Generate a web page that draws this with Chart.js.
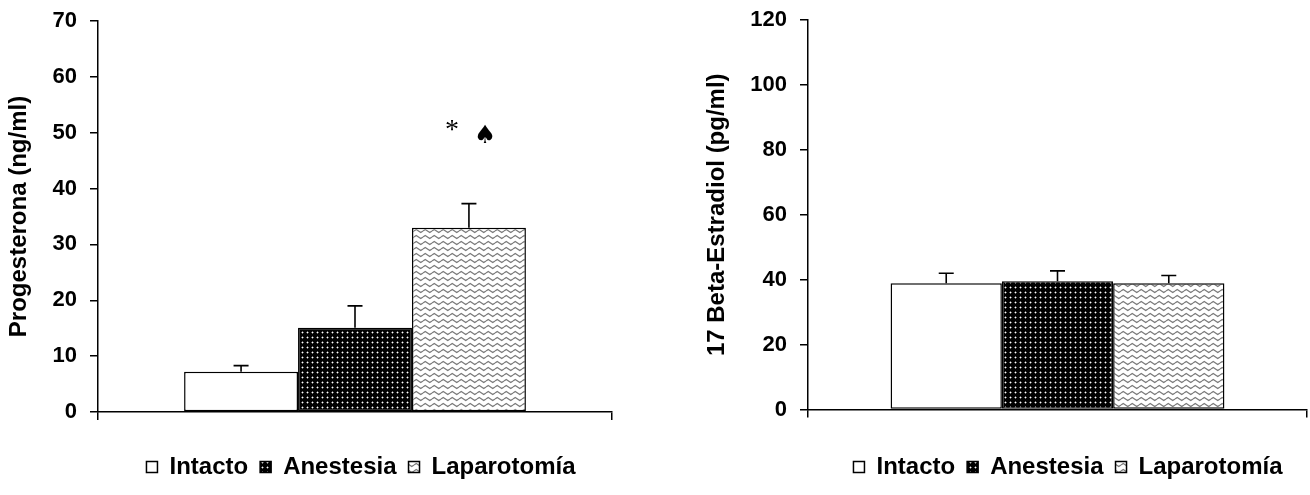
<!DOCTYPE html>
<html>
<head>
<meta charset="utf-8">
<script src="https://cdn.jsdelivr.net/npm/chart.js@4.4.1/dist/chart.umd.min.js"></script>
<style>
html,body{margin:0;padding:0;background:#fff;}
#wrap{position:relative;width:1310px;height:495px;overflow:hidden;background:#fff;}
.box{position:absolute;top:0;height:495px;}
canvas{display:block;}
</style>
</head>
<body>
<div id="wrap">
  <div class="box" style="left:0;width:698px"><canvas id="c1" width="698" height="495"></canvas></div>
  <div class="box" style="left:698px;width:612px"><canvas id="c2" width="612" height="495"></canvas></div>
</div>
<script>
// ---------- data ----------
const groups = ['Intacto', 'Anestesia', 'Laparotomía'];
const categories = [''];
const progMeans = [7.2, 15.1, 33.0];
const progSem = [1.1, 3.9, 4.3];
const progAxis = [0, 70, 10];          // min, max, step
const progTitle = 'Progesterona (ng/ml)';
const estMeans = [38.9, 39.5, 38.9];
const estSem = [3.1, 3.2, 2.4];
const estAxis = [0, 120, 20];
const estTitle = '17 Beta-Estradiol (pg/ml)';
const progMarks = ['*', '♠'];          // significance marks above Laparotomía
const progMarkValue = 50;
const progMarkGroup = 2;

// ---------- styles ----------
const FAMILY = "'Liberation Sans', Arial, Helvetica, sans-serif";
Chart.defaults.font.family = FAMILY;
Chart.defaults.color = '#000';

function dotPattern(ctx) {
  const t = document.createElement('canvas'); t.width = 5; t.height = 5;
  const g = t.getContext('2d');
  g.fillStyle = '#000'; g.fillRect(0, 0, 5, 5);
  g.fillStyle = '#666';
  g.fillRect(1, 2, 1, 1); g.fillRect(3, 2, 1, 1); g.fillRect(2, 1, 1, 1); g.fillRect(2, 3, 1, 1);
  g.fillStyle = '#fff'; g.fillRect(2, 2, 1, 1);
  return ctx.createPattern(t, 'repeat');
}
function wavePattern(ctx) {
  const t = document.createElement('canvas'); t.width = 9; t.height = 6;
  const g = t.getContext('2d');
  g.fillStyle = '#fff'; g.fillRect(0, 0, 9, 6);
  g.strokeStyle = '#7a7a7a'; g.lineWidth = 1.3;
  g.beginPath(); g.moveTo(0, 3); g.lineTo(2.25, 1.5); g.lineTo(6.75, 4.5); g.lineTo(9, 3); g.stroke();
  return ctx.createPattern(t, 'repeat');
}

const errorBars = {
  id: 'errorBars',
  afterDatasetsDraw(chart) {
    const sem = chart.$sem; if (!sem) return;
    const ctx = chart.ctx, y = chart.scales.y;
    ctx.save(); ctx.strokeStyle = '#000'; ctx.lineWidth = 1.6;
    chart.data.datasets.forEach((ds, i) => {
      const bar = chart.getDatasetMeta(i).data[0];
      const top = y.getPixelForValue(ds.data[0] + sem[i]);
      ctx.beginPath();
      ctx.moveTo(bar.x, bar.y); ctx.lineTo(bar.x, top);
      ctx.moveTo(bar.x - 7.5, top); ctx.lineTo(bar.x + 7.5, top);
      ctx.stroke();
    });
    ctx.restore();
  }
};

const legendPlace = {
  id: 'legendPlace',
  beforeDraw(chart) {
    const lg = chart.legend, p = chart.$legendPos; if (!lg || !p) return;
    const w = lg.right - lg.left, h = lg.bottom - lg.top;
    lg.left = p.cx - w / 2; lg.right = lg.left + w;
    lg.top = p.cy - p.pad - p.fs / 2; lg.bottom = lg.top + h;
  }
};

const marksPlugin = {
  id: 'marks',
  afterDatasetsDraw(chart) {
    const m = chart.$marks; if (!m) return;
    const ctx = chart.ctx;
    const bar = chart.getDatasetMeta(m.group).data[0];
    const y = chart.scales.y.getPixelForValue(m.value);
    ctx.save(); ctx.fillStyle = '#000'; ctx.textAlign = 'center'; ctx.textBaseline = 'middle';
    ctx.font = "normal 28px 'Liberation Serif', 'Times New Roman', serif";
    ctx.fillText(m.items[0], bar.x - 17, y - 2);
    ctx.font = "normal 25px 'DejaVu Sans', sans-serif";
    ctx.fillText(m.items[1], bar.x + 16, y + 4);
    ctx.restore();
  }
};

function makeChart(canvas, means, sem, axis, title, cfg) {
  const ctx = canvas.getContext('2d');
  const fills = ['#ffffff', dotPattern(ctx), wavePattern(ctx)];
  const datasets = groups.map((g, i) => ({
    label: g,
    data: [means[i]],
    backgroundColor: fills[i],
    borderColor: '#000',
    borderWidth: 1.5,
    borderSkipped: false,
    categoryPercentage: cfg.catPct,
    barPercentage: 1
  }));
  const ch = new Chart(ctx, {
    type: 'bar',
    data: { labels: categories, datasets },
    options: {
      responsive: false,
      animation: false,
      devicePixelRatio: 1,
      layout: { padding: cfg.padding },
      plugins: {
        tooltip: { enabled: false },
        legend: {
          position: 'bottom',
          labels: {
            boxWidth: 11, boxHeight: 11, padding: 12,
            font: { size: cfg.legendFs, weight: 'bold' }, color: '#000'
          }
        }
      },
      scales: {
        x: {
          type: 'category',
          grid: { display: true, drawOnChartArea: false, offset: true, color: '#000', lineWidth: 1.5, tickLength: 8 },
          border: { display: true, color: '#000', width: 1.5 },
          ticks: { display: false }
        },
        y: {
          min: axis[0], max: axis[1],
          ticks: { stepSize: axis[2], padding: 13, font: { size: cfg.tickFs, weight: 'bold' }, color: '#000' },
          grid: { drawOnChartArea: false, color: '#000', lineWidth: 1.5, tickLength: 8 },
          border: { display: true, color: '#000', width: 1.5 },
          title: { display: true, text: title, color: '#000', font: { size: cfg.titleFs, weight: 'bold' }, padding: { top: 5, bottom: 0 } },
          afterFit: s => { s.width = cfg.yWidth; s.paddingTop = 0; s.paddingBottom = 0; }
        }
      }
    },
    plugins: [errorBars, legendPlace, marksPlugin]
  });
  ch.$sem = sem;
  ch.$legendPos = { cx: cfg.legendCx, cy: 467, pad: 12, fs: cfg.legendFs };
  ch.$marks = cfg.marks || null;
  ch.draw();
  return ch;
}

makeChart(document.getElementById('c1'), progMeans, progSem, progAxis, progTitle, {
  padding: { left: 0, right: 86, top: 21, bottom: 29 },
  yWidth: 98, catPct: 0.665, legendCx: 361, legendFs: 24, tickFs: 22, titleFs: 24,
  marks: { items: progMarks, value: progMarkValue, group: progMarkGroup }
});
makeChart(document.getElementById('c2'), estMeans, estSem, estAxis, estTitle, {
  padding: { left: 0, right: 3, top: 20, bottom: 31.5 },
  yWidth: 110, catPct: 0.669, legendCx: 1068 - 698, legendFs: 24, tickFs: 22, titleFs: 24
});
</script>
</body>
</html>
